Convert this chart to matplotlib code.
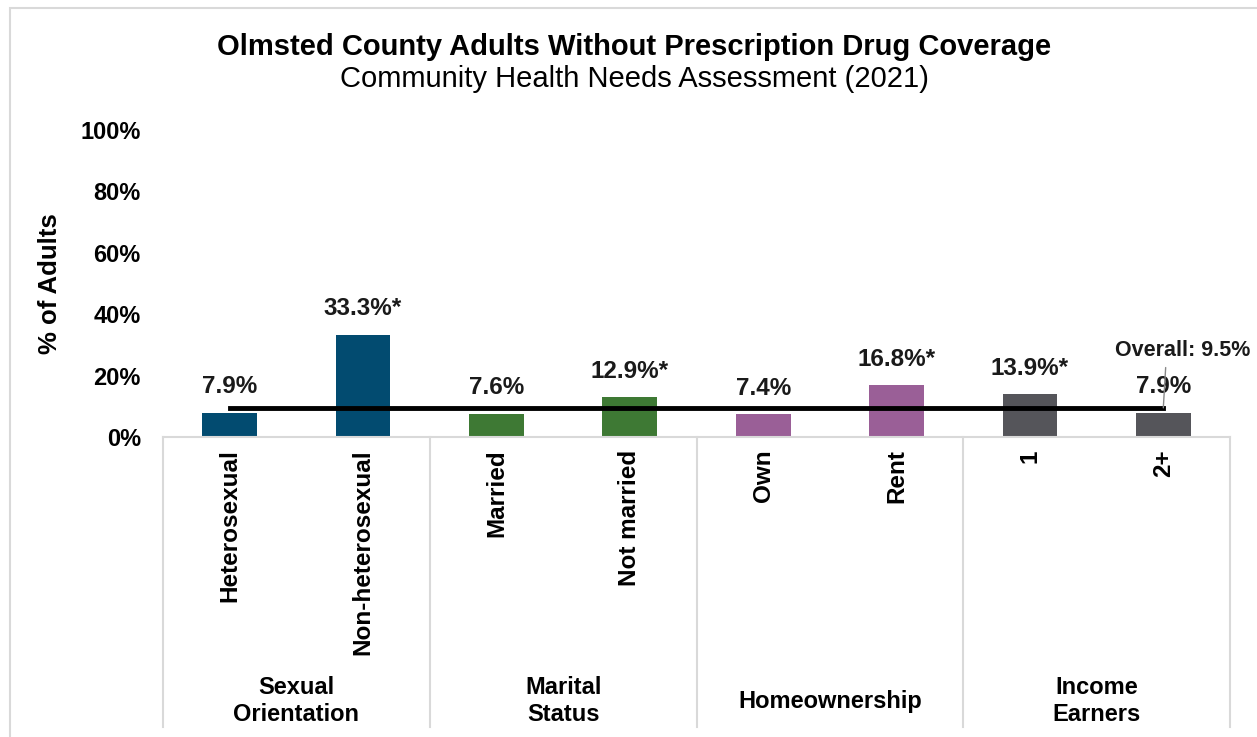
import matplotlib.pyplot as plt
from matplotlib.patches import Rectangle

plt.rcParams["font.family"] = ["Liberation Sans", "DejaVu Sans"]

# data
groups = ["Sexual\nOrientation", "Marital\nStatus", "Homeownership", "Income\nEarners"]
categories = ["Heterosexual", "Non-heterosexual", "Married", "Not married",
              "Own", "Rent", "1", "2+"]
values = [7.9, 33.3, 7.6, 12.9, 7.4, 16.8, 13.9, 7.9]
significant = [False, True, False, True, False, True, True, False]
group_colors = ["#024B70", "#3E7934", "#9A5F97", "#55555A"]
overall = 9.5
yticks = [0, 20, 40, 60, 80, 100]

fig = plt.figure(figsize=(12.57, 7.37), dpi=100)
W, H = 1257, 737
ax = fig.add_axes([163 / W, 1 - 437 / H, (1230 - 163) / W, (437 - 130) / H])

# chart border
fig.patches.append(Rectangle((10 / W, -0.1), 1.2, 1.1 - 8 / H, transform=fig.transFigure,
                             fill=False, edgecolor="#D9D9D9", linewidth=1.5))

x = list(range(len(categories)))
colors = [group_colors[i // 2] for i in x]
ax.bar(x, values, width=0.41, color=colors, zorder=2)

for xi, v, sig in zip(x, values, significant):
    lab = f"{v:.1f}%" + ("*" if sig else "")
    ax.text(xi, v + 8.5, lab, ha="center", va="center", fontsize=17.5,
            fontweight="bold", color="#1a1a1a")

ax.plot([x[0], x[-1]], [overall, overall], color="black", linewidth=3.5, zorder=3)
ax.annotate(f"Overall: {overall}%", xy=(x[-1], overall), xytext=(x[-1] + 0.65, 28.3),
            ha="right", va="center", fontsize=15.5, fontweight="bold", color="#1a1a1a",
            arrowprops=dict(arrowstyle="-", color="#888888", linewidth=1,
                            shrinkA=3, shrinkB=0,
                            relpos=(0.38, 0.0)), annotation_clip=False)

ax.set_xlim(-0.5, len(categories) - 0.5)
ax.set_ylim(0, 100)
ax.set_yticks(yticks)
ax.set_yticklabels([f"{t}%" for t in yticks], fontsize=17, fontweight="bold")
ax.tick_params(axis="y", length=0, pad=16)
ax.set_ylabel("% of Adults", fontsize=18.5, fontweight="bold")
ax.yaxis.set_label_coords(-0.095, 0.5)

ax.set_xticks(x)
ax.set_xticklabels(categories, rotation=90, fontsize=17.5, fontweight="bold",
                   va="top", ha="center")
ax.tick_params(axis="x", length=0, pad=9)

for s in ["top", "right", "left"]:
    ax.spines[s].set_visible(False)
ax.spines["bottom"].set_color("#D9D9D9")
ax.spines["bottom"].set_linewidth(1.5)

# group dividers and group labels below the axis
tr = ax.get_xaxis_transform()
for b in [-0.5, 1.5, 3.5, 5.5, 7.5]:
    ax.plot([b, b], [0, -0.945], transform=tr, color="#D9D9D9", linewidth=1.5,
            clip_on=False)
for gi, g in enumerate(groups):
    ax.text(2 * gi + 0.5, -0.86, g, transform=tr, ha="center", va="center",
            fontsize=17, fontweight="bold", linespacing=1.2)

fig.text(634 / W, 1 - 47 / H, "Olmsted County Adults Without Prescription Drug Coverage",
         ha="center", va="center", fontsize=21, fontweight="bold")
fig.text(634 / W, 1 - 79 / H, "Community Health Needs Assessment (2021)",
         ha="center", va="center", fontsize=21)

fig.savefig("out.png", dpi=100)
